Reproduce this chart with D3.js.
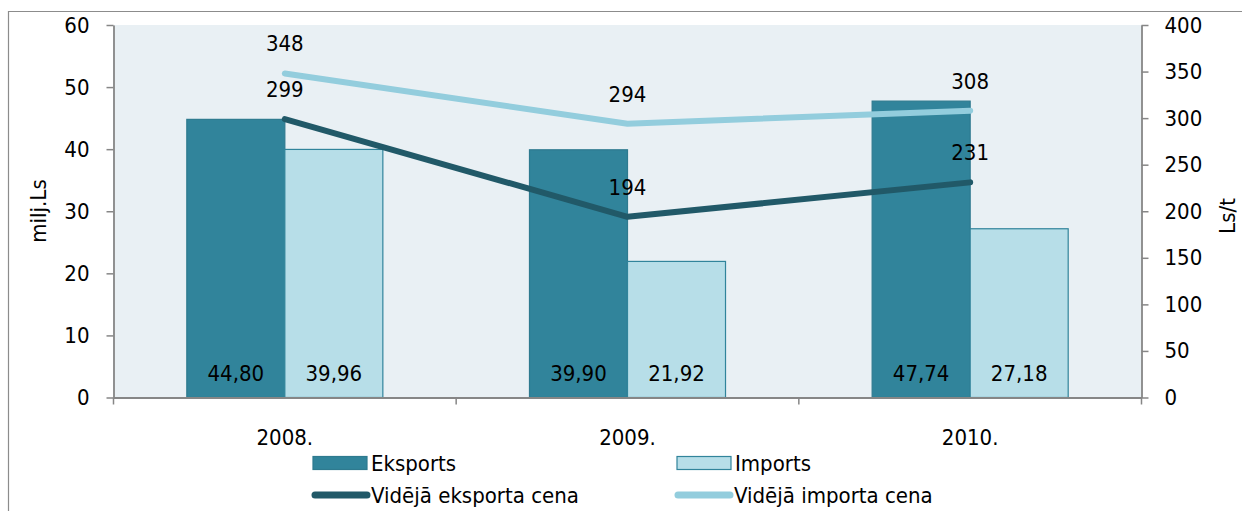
<!DOCTYPE html>
<html>
<head>
<meta charset="utf-8">
<script src="https://cdn.jsdelivr.net/npm/d3@7"></script>
<style>
  html, body { margin: 0; padding: 0; background: #fff; }
  svg { display: block; font-family: "DejaVu Sans", "Liberation Sans", sans-serif; font-stretch: condensed; }
</style>
</head>
<body>
<svg id="chart" width="1242" height="511"></svg>
<script>
// Years and series
const years = ["2008.", "2009.", "2010."];
const exportValues = [44.80, 39.90, 47.74];   // milj.Ls
const importValues = [39.96, 21.92, 27.18];   // milj.Ls
const exportPrice = [299, 194, 231];          // Ls/t
const importPrice = [348, 294, 308];          // Ls/t
const leftTicks = [0, 10, 20, 30, 40, 50, 60];
const rightTicks = [0, 50, 100, 150, 200, 250, 300, 350, 400];

const svg = d3.select("#chart");
const fontSize = 22;
const m = { left: 113.5, right: 1141.5, top: 25, bottom: 397.5 };

const barKeys = ["Eksports", "Imports"];
const barColors = { Eksports: "#31849B", Imports: "#B7DEE8" };
const barStroke = { Eksports: "#2E7A8F", Imports: "#31849B" };
const lineColors = { exp: "#215968", imp: "#93CDDD" };

const x0 = d3.scaleBand().domain(years).range([m.left, m.right]).padding(0);
const x1 = d3.scaleBand().domain(barKeys).range([0, x0.bandwidth()]).paddingInner(0).paddingOuter(0.748);
const yL = d3.scaleLinear().domain([0, 60]).range([m.bottom, m.top]);
const yR = d3.scaleLinear().domain([0, 400]).range([m.bottom, m.top]);

// outer chart frame
svg.append("path")
  .attr("d", `M8.5,511 V11.5 H1242`)
  .attr("fill", "none").attr("stroke", "#8C8C8C").attr("stroke-width", 1.2);

// plot area
svg.append("rect")
  .attr("x", m.left).attr("y", m.top)
  .attr("width", m.right - m.left).attr("height", m.bottom - m.top)
  .attr("fill", "#E9F0F4");

// bars
const rows = years.map((y, i) => ({ year: y, Eksports: exportValues[i], Imports: importValues[i] }));
const groups = svg.append("g").selectAll("g").data(rows).join("g")
  .attr("transform", d => `translate(${x0(d.year)},0)`);
groups.selectAll("rect").data(d => barKeys.map(k => ({ key: k, value: d[k] }))).join("rect")
  .attr("x", d => x1(d.key))
  .attr("y", d => yL(d.value))
  .attr("width", x1.bandwidth())
  .attr("height", d => yL(0) - yL(d.value))
  .attr("fill", d => barColors[d.key])
  .attr("stroke", d => barStroke[d.key])
  .attr("stroke-width", 1.2);
groups.selectAll("text").data(d => barKeys.map(k => ({ key: k, value: d[k] }))).join("text")
  .attr("x", d => x1(d.key) + x1.bandwidth() / 2)
  .attr("y", m.bottom - 17)
  .attr("text-anchor", "middle")
  .attr("font-size", fontSize)
  .attr("fill", "#000")
  .text(d => d3.format(".2f")(d.value).replace(".", ","));

// axes
const axisColor = "#868686";
const gL = svg.append("g").attr("transform", `translate(${m.left},0)`)
  .call(d3.axisLeft(yL).tickValues(leftTicks).tickSize(7).tickPadding(17).tickSizeOuter(0));
const gR = svg.append("g").attr("transform", `translate(${m.right},0)`)
  .call(d3.axisRight(yR).tickValues(rightTicks).tickSize(7).tickPadding(16).tickSizeOuter(0));
const gX = svg.append("g").attr("transform", `translate(0,${m.bottom})`)
  .call(d3.axisBottom(x0).tickSize(0).tickPadding(32).tickSizeOuter(0));
// category boundary ticks
svg.append("g").selectAll("line").data(d3.range(years.length + 1)).join("line")
  .attr("x1", i => m.left + i * x0.step()).attr("x2", i => m.left + i * x0.step())
  .attr("y1", m.bottom).attr("y2", m.bottom + 7)
  .attr("stroke", axisColor).attr("stroke-width", 1.5);

[gL, gR, gX].forEach(g => {
  g.selectAll(".domain").attr("stroke", axisColor).attr("stroke-width", 1.8);
  g.selectAll(".tick line").attr("stroke", axisColor).attr("stroke-width", 1.5);
  g.selectAll(".tick text").attr("font-size", fontSize).attr("fill", "#000")
    .attr("font-family", "DejaVu Sans, sans-serif");
});
gX.selectAll(".tick text").attr("dy", "0.71em");

// lines
const cx = i => x0(years[i]) + x0.bandwidth() / 2;
const line = d3.line().x((d, i) => cx(i)).y(d => yR(d));
svg.append("path").datum(importPrice).attr("d", line)
  .attr("fill", "none").attr("stroke", lineColors.imp).attr("stroke-width", 6)
  .attr("stroke-linecap", "round").attr("stroke-linejoin", "round");
svg.append("path").datum(exportPrice).attr("d", line)
  .attr("fill", "none").attr("stroke", lineColors.exp).attr("stroke-width", 6)
  .attr("stroke-linecap", "round").attr("stroke-linejoin", "round");

// line value labels
[importPrice, exportPrice].forEach(series => {
  svg.append("g").selectAll("text").data(series).join("text")
    .attr("x", (d, i) => cx(i))
    .attr("y", d => yR(d) - 22)
    .attr("text-anchor", "middle")
    .attr("font-size", fontSize)
    .attr("fill", "#000")
    .text(d => d);
});

// axis titles
svg.append("text")
  .attr("transform", `translate(46,211) rotate(-90)`)
  .attr("text-anchor", "middle").attr("font-size", fontSize).attr("fill", "#000")
  .text("milj.Ls");
svg.append("text")
  .attr("transform", `translate(1235,216) rotate(-90)`)
  .attr("text-anchor", "middle").attr("font-size", fontSize).attr("fill", "#000")
  .text("Ls/t");

// legend
const legend = [
  { label: "Eksports", type: "bar", key: "Eksports", x: 313, y: 463 },
  { label: "Imports", type: "bar", key: "Imports", x: 677, y: 463 },
  { label: "Vidējā eksporta cena", type: "line", color: lineColors.exp, x: 313, y: 495 },
  { label: "Vidējā importa cena", type: "line", color: lineColors.imp, x: 676, y: 495 }
];
const lg = svg.append("g").selectAll("g").data(legend).join("g")
  .attr("transform", d => `translate(${d.x},${d.y})`);
lg.filter(d => d.type === "bar").append("rect")
  .attr("x", 0).attr("y", -6.5).attr("width", 54).attr("height", 13)
  .attr("fill", d => barColors[d.key]).attr("stroke", d => barStroke[d.key]).attr("stroke-width", 1.2);
lg.filter(d => d.type === "line").append("line")
  .attr("x1", 2).attr("x2", 54).attr("y1", 0).attr("y2", 0)
  .attr("stroke", d => d.color).attr("stroke-width", 7).attr("stroke-linecap", "round");
lg.append("text")
  .attr("x", 58).attr("y", 0).attr("dy", "0.36em")
  .attr("font-size", fontSize).attr("fill", "#000")
  .text(d => d.label);
</script>
</body>
</html>
